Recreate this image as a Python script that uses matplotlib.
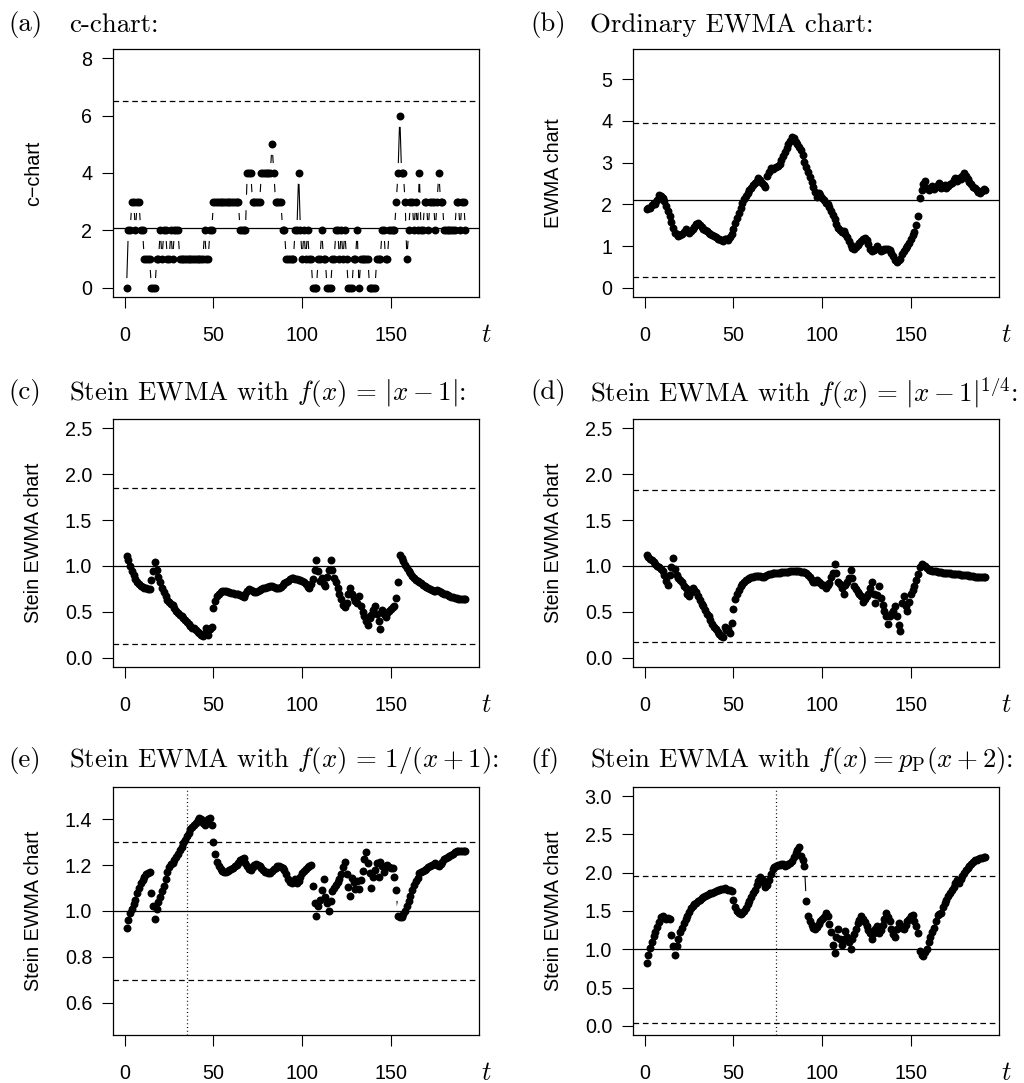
# Six-panel c-chart / EWMA / Stein EWMA figure
import matplotlib
matplotlib.use("Agg")
import numpy as np
import matplotlib.pyplot as plt
from matplotlib.ticker import FormatStrFormatter

plt.rcParams["font.family"] = ["Liberation Sans", "DejaVu Sans"]
plt.rcParams["mathtext.fontset"] = "cm"

# ------------------------------------------------------------
# Data
# ------------------------------------------------------------

t = np.arange(1, 193)

counts = [
    0, 2, 2, 3, 3, 2, 3, 3, 2, 2,
    1, 1, 1, 1, 0, 0, 0, 1, 1, 2,
    1, 2, 2, 1, 1, 2, 1, 2, 2, 2,
    1, 1, 1, 1, 1, 1, 1, 1, 1, 1,
    1, 1, 1, 1, 2, 1, 1, 2, 2, 3,
    3, 3, 3, 3, 3, 3, 3, 3, 3, 3,
    3, 3, 3, 3, 2, 2, 2, 2, 4, 4,
    4, 3, 3, 3, 3, 3, 4, 4, 4, 4,
    4, 4, 5, 4, 3, 3, 3, 3, 2, 2,
    1, 1, 1, 1, 1, 2, 2, 4, 2, 1,
    2, 1, 2, 1, 1, 0, 0, 0, 1, 1,
    2, 1, 1, 0, 0, 0, 1, 1, 2, 2,
    1, 2, 1, 2, 1, 0, 0, 0, 1, 1,
    2, 0, 1, 1, 1, 1, 1, 0, 0, 0,
    0, 1, 1, 1, 2, 2, 1, 1, 2, 2,
    2, 2, 3, 4, 6, 4, 4, 3, 1, 2,
    3, 3, 2, 3, 2, 4, 2, 2, 3, 3,
    2, 3, 3, 3, 2, 3, 4, 3, 3, 2,
    2, 2, 2, 2, 2, 2, 3, 3, 2, 3,
    3, 2,
]

ewma = [
    1.89, 1.90, 1.90, 1.98, 2.04, 2.00, 2.10, 2.22, 2.20, 2.16,
    2.08, 1.95, 1.84, 1.72, 1.58, 1.44, 1.32, 1.28, 1.24, 1.27,
    1.30, 1.34, 1.40, 1.36, 1.32, 1.37, 1.41, 1.46, 1.52, 1.55,
    1.50, 1.46, 1.42, 1.38, 1.35, 1.32, 1.29, 1.26, 1.23, 1.21,
    1.18, 1.16, 1.14, 1.12, 1.18, 1.16, 1.14, 1.22, 1.30, 1.42,
    1.56, 1.68, 1.80, 1.92, 2.02, 2.12, 2.20, 2.28, 2.34, 2.40,
    2.46, 2.51, 2.56, 2.62, 2.58, 2.52, 2.46, 2.42, 2.68, 2.78,
    2.86, 2.84, 2.88, 2.90, 2.92, 2.96, 3.06, 3.16, 3.26, 3.36,
    3.44, 3.52, 3.62, 3.58, 3.50, 3.44, 3.38, 3.30, 3.18, 3.02,
    2.90, 2.78, 2.66, 2.54, 2.42, 2.30, 2.18, 2.28, 2.22, 2.14,
    2.10, 2.04, 2.00, 1.94, 1.84, 1.74, 1.64, 1.54, 1.44, 1.38,
    1.34, 1.36, 1.30, 1.22, 1.12, 1.02, 0.96, 0.94, 0.98, 1.02,
    1.08, 1.12, 1.16, 1.20, 1.14, 1.04, 0.94, 0.88, 0.90, 0.94,
    1.00, 0.92, 0.88, 0.90, 0.94, 0.92, 0.94, 0.90, 0.84, 0.76,
    0.66, 0.62, 0.66, 0.70, 0.80, 0.88, 0.96, 1.00, 1.08, 1.16,
    1.26, 1.34, 1.50, 1.72, 2.16, 2.34, 2.48, 2.56, 2.38, 2.34,
    2.38, 2.44, 2.36, 2.42, 2.46, 2.52, 2.40, 2.42, 2.46, 2.40,
    2.44, 2.48, 2.52, 2.58, 2.62, 2.56, 2.64, 2.60, 2.68, 2.74,
    2.68, 2.60, 2.54, 2.48, 2.42, 2.38, 2.34, 2.30, 2.28, 2.32,
    2.36, 2.34,
]

stein_abs = [
    1.11, 1.06, 1.00, 0.94, 0.90, 0.86, 0.83, 0.80, 0.78, 0.77,
    0.76, 0.76, 0.75, 0.75, 0.85, 0.94, 1.04, 0.96, 0.88, 0.82,
    0.76, 0.72, 0.67, 0.63, 0.61, 0.59, 0.57, 0.54, 0.51, 0.49,
    0.47, 0.45, 0.43, 0.41, 0.39, 0.37, 0.35, 0.33, 0.32, 0.30,
    0.28, 0.27, 0.25, 0.24, 0.27, 0.33, 0.25, 0.31, 0.34, 0.54,
    0.62, 0.67, 0.70, 0.72, 0.73, 0.73, 0.73, 0.72, 0.72, 0.71,
    0.71, 0.70, 0.70, 0.69, 0.68, 0.67, 0.66, 0.69, 0.73, 0.75,
    0.74, 0.73, 0.72, 0.72, 0.73, 0.74, 0.75, 0.76, 0.76, 0.77,
    0.77, 0.78, 0.78, 0.77, 0.76, 0.76, 0.76, 0.77, 0.79, 0.81,
    0.82, 0.84, 0.86, 0.87, 0.87, 0.86, 0.86, 0.85, 0.85, 0.84,
    0.82, 0.80, 0.77, 0.76, 0.80, 0.86, 0.96, 1.06, 0.95, 0.84,
    0.87, 0.80, 0.78, 0.88, 0.96, 1.07, 0.96, 0.87, 0.82, 0.76,
    0.70, 0.64, 0.58, 0.55, 0.60, 0.69, 0.76, 0.70, 0.65, 0.62,
    0.60, 0.67, 0.56, 0.50, 0.45, 0.40, 0.36, 0.43, 0.47, 0.52,
    0.56, 0.48, 0.40, 0.31, 0.52, 0.48, 0.44, 0.49, 0.51, 0.53,
    0.55, 0.56, 0.65, 0.82, 1.12, 1.09, 1.05, 1.01, 0.98, 0.95,
    0.92, 0.89, 0.87, 0.85, 0.84, 0.82, 0.81, 0.79, 0.78, 0.77,
    0.76, 0.75, 0.74, 0.73, 0.73, 0.74, 0.73, 0.72, 0.71, 0.70,
    0.69, 0.68, 0.67, 0.66, 0.66, 0.65, 0.65, 0.64, 0.64, 0.64,
    0.64, 0.64,
]

stein_root = [
    1.12, 1.10, 1.08, 1.06, 1.04, 1.02, 1.00, 0.99, 0.97, 0.95,
    0.90, 0.84, 0.79, 0.90, 0.99, 1.09, 0.97, 0.90, 0.87, 0.85,
    0.82, 0.78, 0.76, 0.69, 0.67, 0.72, 0.76, 0.74, 0.72, 0.67,
    0.63, 0.59, 0.56, 0.52, 0.48, 0.45, 0.41, 0.37, 0.34, 0.31,
    0.28, 0.26, 0.24, 0.23, 0.34, 0.30, 0.31, 0.27, 0.38, 0.53,
    0.64, 0.70, 0.74, 0.78, 0.80, 0.83, 0.85, 0.86, 0.87, 0.88,
    0.88, 0.89, 0.89, 0.89, 0.89, 0.88, 0.88, 0.89, 0.90, 0.91,
    0.91, 0.92, 0.92, 0.92, 0.92, 0.92, 0.93, 0.93, 0.93, 0.93,
    0.93, 0.94, 0.94, 0.94, 0.94, 0.94, 0.94, 0.93, 0.93, 0.93,
    0.92, 0.90, 0.88, 0.85, 0.83, 0.82, 0.85, 0.83, 0.81, 0.79,
    0.79, 0.76, 0.79, 0.81, 0.88, 0.92, 1.02, 0.92, 0.83, 0.80,
    0.76, 0.70, 0.79, 0.82, 0.87, 0.96, 0.87, 0.78, 0.75, 0.72,
    0.69, 0.67, 0.61, 0.64, 0.67, 0.70, 0.76, 0.83, 0.70, 0.60,
    0.68, 0.78, 0.65, 0.58, 0.51, 0.45, 0.37, 0.45, 0.48, 0.51,
    0.56, 0.45, 0.36, 0.29, 0.60, 0.67, 0.56, 0.51, 0.61, 0.70,
    0.74, 0.78, 0.85, 0.91, 0.99, 1.02, 1.01, 1.00, 0.98, 0.96,
    0.96, 0.95, 0.94, 0.94, 0.93, 0.93, 0.93, 0.92, 0.92, 0.92,
    0.92, 0.92, 0.91, 0.91, 0.91, 0.91, 0.91, 0.90, 0.90, 0.90,
    0.90, 0.90, 0.89, 0.89, 0.89, 0.88, 0.88, 0.88, 0.88, 0.88,
    0.88, 0.88,
]

stein_inv = [
    0.925, 0.96, 0.99, 1.01, 1.03, 1.05, 1.08, 1.10, 1.12, 1.135,
    1.15, 1.16, 1.165, 1.17, 1.08, 1.02, 0.965, 1.01, 1.04, 1.06,
    1.085, 1.11, 1.14, 1.17, 1.19, 1.205, 1.21, 1.22, 1.235, 1.25,
    1.265, 1.28, 1.295, 1.31, 1.325, 1.34, 1.355, 1.365, 1.375, 1.385,
    1.395, 1.405, 1.40, 1.385, 1.375, 1.39, 1.40, 1.405, 1.375, 1.30,
    1.25, 1.215, 1.195, 1.185, 1.175, 1.172, 1.172, 1.175, 1.178, 1.182,
    1.188, 1.195, 1.20, 1.21, 1.22, 1.228, 1.232, 1.21, 1.195, 1.185,
    1.18, 1.19, 1.20, 1.205, 1.20, 1.195, 1.188, 1.18, 1.172, 1.168,
    1.165, 1.166, 1.175, 1.182, 1.188, 1.195, 1.195, 1.19, 1.188, 1.18,
    1.16, 1.14, 1.125, 1.12, 1.125, 1.14, 1.12, 1.13, 1.15, 1.165,
    1.175, 1.185, 1.19, 1.195, 1.20, 1.108, 1.036, 0.98, 1.02, 1.05,
    1.09, 1.14, 1.06, 1.035, 1.00, 1.045, 1.085, 1.10, 1.115, 1.125,
    1.14, 1.16, 1.19, 1.215, 1.16, 1.105, 1.065, 1.145, 1.125, 1.095,
    1.13, 1.095, 1.135, 1.175, 1.225, 1.255, 1.21, 1.165, 1.10, 1.15,
    1.18, 1.21, 1.15, 1.215, 1.195, 1.17, 1.195, 1.20, 1.19, 1.188,
    1.188, 1.15, 1.09, 0.98, 0.975, 0.975, 0.985, 1.00, 1.02, 1.045,
    1.065, 1.09, 1.115, 1.13, 1.145, 1.165, 1.17, 1.175, 1.18, 1.185,
    1.19, 1.195, 1.20, 1.205, 1.21, 1.20, 1.198, 1.205, 1.215, 1.225,
    1.23, 1.235, 1.24, 1.245, 1.25, 1.255, 1.26, 1.262, 1.262, 1.262,
    1.26, 1.26,
]

stein_pois = [
    0.82, 0.93, 1.02, 1.10, 1.17, 1.23, 1.29, 1.35, 1.42, 1.43,
    1.41, 1.40, 1.41, 1.40, 1.19, 1.04, 0.93, 1.04, 1.13, 1.22,
    1.28, 1.34, 1.39, 1.44, 1.49, 1.54, 1.57, 1.59, 1.61, 1.63,
    1.65, 1.67, 1.68, 1.70, 1.71, 1.72, 1.73, 1.74, 1.75, 1.76,
    1.77, 1.78, 1.79, 1.79, 1.80, 1.79, 1.78, 1.78, 1.76, 1.65,
    1.55, 1.50, 1.47, 1.46, 1.47, 1.50, 1.54, 1.59, 1.63, 1.68,
    1.73, 1.78, 1.84, 1.89, 1.95, 1.92, 1.86, 1.81, 1.84, 1.90,
    1.98, 2.05, 2.08, 2.09, 2.10, 2.10, 2.11, 2.12, 2.09, 2.10,
    2.12, 2.13, 2.15, 2.20, 2.26, 2.30, 2.34, 2.22, 2.17, 2.09,
    1.63, 1.44, 1.37, 1.32, 1.28, 1.27, 1.29, 1.33, 1.37, 1.40,
    1.42, 1.47, 1.44, 1.33, 1.22, 1.06, 0.95, 1.16, 1.26, 1.13,
    1.06, 1.13, 1.24, 1.16, 1.09, 1.00, 1.13, 1.20, 1.26, 1.34,
    1.38, 1.43, 1.39, 1.35, 1.30, 1.25, 1.21, 1.13, 1.21, 1.26,
    1.30, 1.21, 1.25, 1.32, 1.39, 1.47, 1.42, 1.37, 1.26, 1.20,
    1.16, 1.26, 1.34, 1.30, 1.28, 1.26, 1.32, 1.37, 1.40, 1.43,
    1.45, 1.37, 1.30, 1.21, 0.98, 0.93, 0.91, 0.96, 1.00, 1.09,
    1.16, 1.22, 1.28, 1.37, 1.45, 1.46, 1.47, 1.55, 1.60, 1.65,
    1.69, 1.73, 1.78, 1.82, 1.87, 1.91, 1.86, 1.92, 1.96, 2.00,
    2.03, 2.06, 2.09, 2.12, 2.14, 2.16, 2.17, 2.18, 2.19, 2.19,
    2.20, 2.20,
]

# control limits (lower, centre, upper) and alarm times
limits_c = (-2.25, 2.1, 6.5)
limits_ewma = (0.25, 2.1, 3.95)
limits_abs = (0.15, 1.0, 1.85)
limits_root = (0.17, 1.0, 1.83)
limits_inv = (0.70, 1.0, 1.30)
limits_pois = (0.04, 1.0, 1.96)
alarm_inv = 35
alarm_pois = 74

panel_tags = ["(a)", "(b)", "(c)", "(d)", "(e)", "(f)"]
panel_titles = [
    "c-chart:",
    "Ordinary EWMA chart:",
    r"Stein EWMA with $f(x)\,=\,|x-1|$:",
    r"Stein EWMA with $f(x)\,=\,|x-1|^{1/4}$:",
    r"Stein EWMA with $f(x)\,=\,1/(x+1)$:",
    r"Stein EWMA with $f(x) = p_{\mathrm{P}}(x+2)$:",
]
y_labels = ["c\u2212chart", "EWMA chart"] + ["Stein EWMA chart"] * 4


# ------------------------------------------------------------
# Plotting
# ------------------------------------------------------------

def draw_panel(ax, values, limits, ylim, yticks, ylabel, fmt, alarm=None):
    lo, cl, hi = limits
    # R type="b": line with gaps around each point
    ax.plot(t, values, color="black", lw=0.8, zorder=1)
    ax.plot(t, values, ls="none", marker="o", ms=15, mfc="white",
            mec="none", zorder=1.5)
    ax.axhline(cl, color="black", lw=0.9, zorder=2)
    for lim in (lo, hi):
        if ylim[0] <= lim <= ylim[1]:
            ax.axhline(lim, color="black", lw=0.9, ls=(0, (4.5, 3.0)), zorder=2)
    if alarm is not None:
        ax.axvline(alarm, color="black", lw=0.9, ls=(0, (0.8, 2.2)), zorder=2)
    ax.plot(t, values, ls="none", marker="o", ms=5.7, mfc="black",
            mec="black", mew=0, zorder=3)

    ax.set_xlim(1 - 0.04 * 191, 192 + 0.04 * 191)
    ext = 0.04 * (ylim[1] - ylim[0])
    ax.set_ylim(ylim[0] - ext, ylim[1] + ext)
    ax.set_xticks([0, 50, 100, 150])
    ax.set_yticks(yticks)
    ax.yaxis.set_major_formatter(FormatStrFormatter(fmt))
    ax.tick_params(direction="out", length=8, width=0.8, labelsize=14.2)
    ax.tick_params(axis="x", pad=13)
    ax.tick_params(axis="y", pad=7)
    for sp in ax.spines.values():
        sp.set_linewidth(0.9)

    ax.set_ylabel(ylabel, fontsize=14.2, va="center")
    ax.yaxis.set_label_coords(-0.218, 0.5)
    ax.annotate("$t$", xy=(1, 0), xycoords="axes fraction", xytext=(5, -27),
                textcoords="offset points", ha="center", va="center",
                fontsize=19)


W, H = 1024, 1083
fig = plt.figure(figsize=(W / 100, H / 100), dpi=100)

col_left = [113, 633]
row_top = [49, 419, 787]
box_w, box_h = 366, 248

axes = []
for r in range(3):
    for c in range(2):
        x0 = col_left[c]
        y0 = row_top[r]
        axes.append(fig.add_axes([x0 / W, 1 - (y0 + box_h) / H, box_w / W, box_h / H]))

draw_panel(axes[0], counts, limits_c, (0, 8), [0, 2, 4, 6, 8], y_labels[0], "%d")
draw_panel(axes[1], ewma, limits_ewma, (0, 5.5), [0, 1, 2, 3, 4, 5], y_labels[1], "%d")
draw_panel(axes[2], stein_abs, limits_abs, (0, 2.5), np.arange(0, 2.51, 0.5), y_labels[2], "%.1f")
draw_panel(axes[3], stein_root, limits_root, (0, 2.5), np.arange(0, 2.51, 0.5), y_labels[3], "%.1f")
draw_panel(axes[4], stein_inv, limits_inv, (0.5, 1.5), [0.6, 0.8, 1.0, 1.2, 1.4], y_labels[4], "%.1f", alarm_inv)
draw_panel(axes[5], stein_pois, limits_pois, (0, 3), np.arange(0, 3.01, 0.5), y_labels[5], "%.1f", alarm_pois)

title_y = [25, 393, 760]
tag_x = [8, 530]
title_x = [69, 590]
for i, (tag, title) in enumerate(zip(panel_tags, panel_titles)):
    r, c = divmod(i, 2)
    yy = 1 - title_y[r] / H
    fig.text(tag_x[c] / W, yy, tag, family="cmr10", fontsize=19.3, va="center")
    fig.text(title_x[c] / W, yy, title, family="cmr10", fontsize=19.3, va="center")

fig.savefig("out.png", dpi=100)
